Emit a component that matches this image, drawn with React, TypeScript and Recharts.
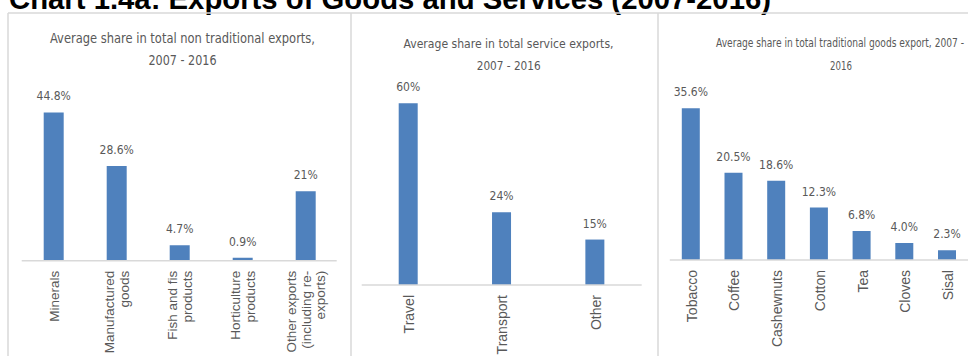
import { BarChart, Bar, XAxis, YAxis, LabelList } from 'recharts';

// Chart 1.4a data
const nonTradCategories = [
  'Minerals',
  'Manufactured\ngoods',
  'Fish and fis\nproducts',
  'Horticulture\nproducts',
  'Other exports\n(including re-\nexports)',
];
const nonTradShares = [44.8, 28.6, 4.7, 0.9, 21];
const nonTradLabels = ['44.8%', '28.6%', '4.7%', '0.9%', '21%'];

const serviceCategories = ['Travel', 'Transport', 'Other'];
const serviceShares = [60, 24, 15];
const serviceLabels = ['60%', '24%', '15%'];

const tradCategories = ['Tobacco', 'Coffee', 'Cashewnuts', 'Cotton', 'Tea', 'Cloves', 'Sisal'];
const tradShares = [35.6, 20.5, 18.6, 12.3, 6.8, 4.0, 2.3];
const tradLabels = ['35.6%', '20.5%', '18.6%', '12.3%', '6.8%', '4.0%', '2.3%'];

const BAR_BLUE = '#4f81bd';
const TEXT_GREY = '#595959';
const LINE_GREY = '#d9d9d9';
const NARROW = "'Liberation Sans Narrow', 'DejaVu Sans Condensed', sans-serif";
const SANS = "'Liberation Sans', Arial, sans-serif";

const build = (names: string[], shares: number[], labels: string[]) =>
  names.map((name, i) => ({ name, share: shares[i], label: labels[i] }));

function CategoryTick(props: any) {
  const { x, y, payload, fontSize } = props;
  const lines = String(payload.value).split('\n');
  const lh = fontSize * 1.07;
  return (
    <g transform={`translate(${x},${y})`}>
      <text transform="rotate(-90)" textAnchor="end" fill={TEXT_GREY} fontSize={fontSize} fontFamily={SANS}>
        {lines.map((line, i) => (
          <tspan key={i} x={-10} y={(i - (lines.length - 1) / 2) * lh + fontSize * 0.4}>
            {line}
          </tspan>
        ))}
      </text>
    </g>
  );
}

function SharePanel(props: any) {
  const { left, width, plotLeft, plotRight, axisY, pxPerUnit, domainMax, barSize, data, tickFont } = props;
  const top = 13;
  const marginTop = axisY - domainMax * pxPerUnit - top;
  return (
    <div style={{ position: 'absolute', left, top }}>
      <BarChart
        width={width}
        height={356 - top}
        data={data}
        margin={{ top: marginTop, right: left + width - plotRight, bottom: 0, left: plotLeft - left }}
      >
        <XAxis
          dataKey="name"
          interval={0}
          height={356 - axisY}
          axisLine={{ stroke: LINE_GREY, strokeWidth: 1.5 }}
          tickLine={false}
          tickSize={0}
          tickMargin={0}
          tick={<CategoryTick fontSize={tickFont} />}
        />
        <YAxis hide domain={[0, domainMax]} allowDataOverflow />
        <Bar dataKey="share" fill={BAR_BLUE} barSize={barSize} isAnimationActive={false}>
          <LabelList dataKey="label" position="top" offset={12} fill={TEXT_GREY} fontSize={12} fontFamily={NARROW} />
        </Bar>
      </BarChart>
    </div>
  );
}

export default function App() {
  return (
    <div style={{ position: 'absolute', left: 0, top: 0, width: 968, height: 356, overflow: 'hidden', background: '#fff' }}>
      <svg width={968} height={356} style={{ position: 'absolute', left: 0, top: 0 }}>
        <text x={9} y={9} fontSize={29} fontWeight="bold" fontFamily={SANS} fill="#000" textLength={762} lengthAdjust="spacingAndGlyphs">
          Chart 1.4a: Exports of Goods and Services (2007-2016)
        </text>
        <line x1={8} y1={13} x2={968} y2={13} stroke={LINE_GREY} strokeWidth={1.5} />
        <line x1={8} y1={13} x2={8} y2={356} stroke={LINE_GREY} strokeWidth={1.5} />
        <line x1={351} y1={13} x2={351} y2={356} stroke={LINE_GREY} strokeWidth={1.5} />
        <line x1={658} y1={13} x2={658} y2={356} stroke={LINE_GREY} strokeWidth={1.5} />
        <g fill={TEXT_GREY} fontFamily={NARROW} textAnchor="middle">
          <text x={182.5} y={42.7} fontSize={13.5} textLength={265} lengthAdjust="spacingAndGlyphs">
            Average share in total non traditional exports,
          </text>
          <text x={182.5} y={65} fontSize={13.5} textLength={68} lengthAdjust="spacingAndGlyphs">2007 - 2016</text>
          <text x={508.5} y={48.3} fontSize={13} textLength={210} lengthAdjust="spacingAndGlyphs">
            Average share in total service exports,
          </text>
          <text x={508.7} y={70} fontSize={13} textLength={64} lengthAdjust="spacingAndGlyphs">2007 - 2016</text>
          <text x={840} y={46.7} fontSize={12.5} textLength={248} lengthAdjust="spacingAndGlyphs">
            Average share in total traditional goods export, 2007 -
          </text>
          <text x={841} y={70} fontSize={12.5} textLength={22} lengthAdjust="spacingAndGlyphs">2016</text>
        </g>
      </svg>
      <SharePanel
        left={8}
        width={343}
        plotLeft={21.7}
        plotRight={336.7}
        axisY={260.7}
        pxPerUnit={3.31}
        domainMax={50}
        barSize={20}
        tickFont={13.5}
        data={build(nonTradCategories, nonTradShares, nonTradLabels)}
      />
      <SharePanel
        left={351}
        width={307}
        plotLeft={361.7}
        plotRight={641.7}
        axisY={285}
        pxPerUnit={3.03}
        domainMax={70}
        barSize={19}
        tickFont={14}
        data={build(serviceCategories, serviceShares, serviceLabels)}
      />
      <SharePanel
        left={658}
        width={312}
        plotLeft={669.8}
        plotRight={968.7}
        axisY={260}
        pxPerUnit={4.26}
        domainMax={40}
        barSize={18}
        tickFont={14}
        data={build(tradCategories, tradShares, tradLabels)}
      />
    </div>
  );
}
